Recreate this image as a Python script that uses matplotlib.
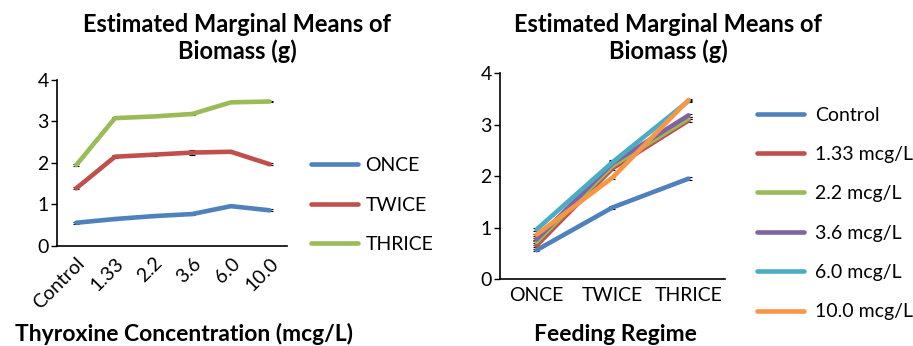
import matplotlib
matplotlib.use("Agg")
import matplotlib.pyplot as plt
import numpy as np

plt.rcParams['font.family'] = ['Lato', 'DejaVu Sans']

concentrations = ["Control", "1.33", "2.2", "3.6", "6.0", "10.0"]
conc_legend = ["Control", "1.33 mcg/L", "2.2 mcg/L", "3.6 mcg/L", "6.0 mcg/L", "10.0 mcg/L"]
regimes = ["ONCE", "TWICE", "THRICE"]

once = [0.56, 0.65, 0.72, 0.77, 0.96, 0.86]
twice = [1.39, 2.15, 2.20, 2.25, 2.27, 1.97]
thrice = [1.95, 3.08, 3.12, 3.18, 3.46, 3.48]

once_se = [0.02, 0.02, 0.02, 0.02, 0.03, 0.02]
twice_se = [0.02, 0.03, 0.03, 0.06, 0.03, 0.02]
thrice_se = [0.03, 0.02, 0.02, 0.03, 0.02, 0.02]

regime_colors = ["#4F81BD", "#C0504D", "#9BBB59"]
conc_colors = ["#4F81BD", "#C0504D", "#9BBB59", "#8064A2", "#4BACC6", "#F79646"]

means = np.array([once, twice, thrice])
ses = np.array([once_se, twice_se, thrice_se])

fig = plt.figure(figsize=(9.13, 3.46), dpi=100)

lw = 3.3
tick_fs = 14
leg_fs = 14
title_fs = 17
xlab_fs = 16.5

# Left chart
ax1 = fig.add_axes([0.0624, 0.289, 0.2519, 0.480])
x1 = np.arange(len(concentrations))
h1 = []
for i, r in enumerate(regimes):
    c = ax1.errorbar(x1, means[i], yerr=ses[i], color=regime_colors[i], lw=lw,
                     ecolor="black", elinewidth=0.8, capsize=2, capthick=0.8,
                     label=r, solid_capstyle="round", zorder=2)
    h1.append(c[0])
ax1.set_xlim(-0.5, 5.45)
ax1.set_ylim(0, 4)
ax1.set_yticks([0, 1, 2, 3, 4])
ax1.set_xticks(x1)
ax1.set_xticklabels(concentrations, rotation=45, ha="right", rotation_mode="anchor")
ax1.tick_params(axis="x", length=0, labelsize=tick_fs, pad=6)
ax1.tick_params(axis="y", length=4, width=1, labelsize=tick_fs, pad=2)
for s in ["top", "right"]:
    ax1.spines[s].set_visible(False)
for s in ["left", "bottom"]:
    ax1.spines[s].set_linewidth(1.2)
ax1.legend(handles=h1, labels=regimes, loc="center left", bbox_to_anchor=(0.3406, 0.4075),
           bbox_transform=fig.transFigure, frameon=False, fontsize=leg_fs,
           handlelength=2.4, handletextpad=0.4, labelspacing=1.15,
           borderpad=0, borderaxespad=0)

# Right chart
ax2 = fig.add_axes([0.5476, 0.1936, 0.2465, 0.595])
x2 = np.arange(len(regimes))
h2 = []
for j, lab in enumerate(conc_legend):
    c = ax2.errorbar(x2, means[:, j], yerr=ses[:, j], color=conc_colors[j], lw=lw,
                     ecolor="black", elinewidth=0.8, capsize=2, capthick=0.8,
                     label=lab, solid_capstyle="round", zorder=2)
    h2.append(c[0])
ax2.set_xlim(-0.48, 2.48)
ax2.set_ylim(0, 4)
ax2.set_yticks([0, 1, 2, 3, 4])
ax2.set_xticks(x2)
ax2.set_xticklabels(regimes)
ax2.tick_params(axis="x", length=0, labelsize=tick_fs, pad=6)
ax2.tick_params(axis="y", length=4, width=1, labelsize=tick_fs, pad=2)
for s in ["top", "right"]:
    ax2.spines[s].set_visible(False)
for s in ["left", "bottom"]:
    ax2.spines[s].set_linewidth(1.2)
ax2.legend(handles=h2, labels=conc_legend, loc="center left", bbox_to_anchor=(0.829, 0.383),
           bbox_transform=fig.transFigure, frameon=False, fontsize=leg_fs,
           handlelength=2.4, handletextpad=0.6, labelspacing=1.15,
           borderpad=0, borderaxespad=0)

# Titles and axis labels
fig.text(0.2596, 0.89, "Estimated Marginal Means of\nBiomass (g)", ha="center", va="center",
         fontsize=title_fs, fontweight="bold", linespacing=1.15)
fig.text(0.7317, 0.89, "Estimated Marginal Means of\nBiomass (g)", ha="center", va="center",
         fontsize=title_fs, fontweight="bold", linespacing=1.15)
fig.text(0.202, 0.034, "Thyroxine Concentration (mcg/L)", ha="center", va="center",
         fontsize=xlab_fs, fontweight="bold")
fig.text(0.674, 0.034, "Feeding Regime", ha="center", va="center",
         fontsize=xlab_fs, fontweight="bold")

fig.savefig("out.png", dpi=100)
